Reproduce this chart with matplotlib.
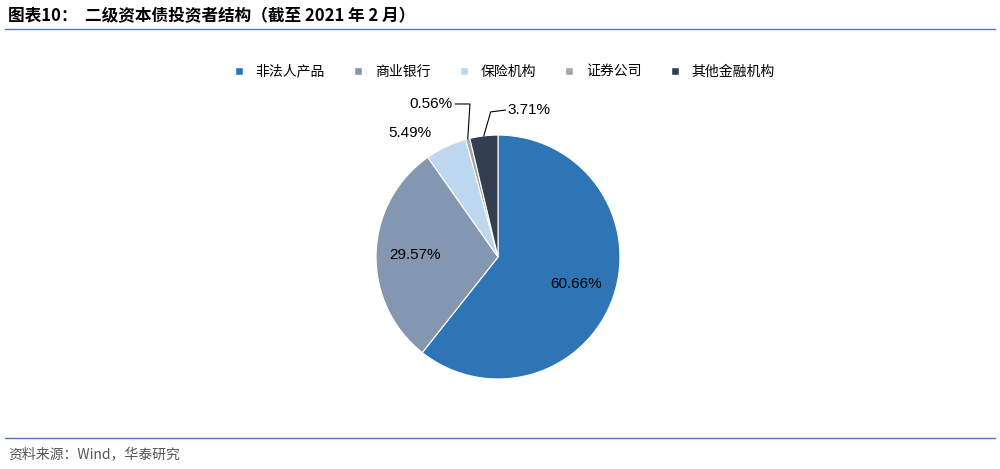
import matplotlib
matplotlib.use("Agg")
import matplotlib.pyplot as plt
import numpy as np
from matplotlib.lines import Line2D

plt.rcParams['font.family'] = ['Noto Sans CJK SC', 'DejaVu Sans']

categories = ["非法人产品", "商业银行", "保险机构", "证券公司", "其他金融机构"]
values = [60.66, 29.57, 5.49, 0.56, 3.71]
labels = ["60.66%", "29.57%", "5.49%", "0.56%", "3.71%"]
colors = ["#2E75B6", "#8497B0", "#BDD7EE", "#A5A5A5", "#333F50"]

fig = plt.figure(figsize=(10, 4.69), dpi=100)
fig.patch.set_facecolor("white")

ax = fig.add_axes([0.376, 0.192, 0.244, 0.520])
wedges, _ = ax.pie(values, colors=colors, startangle=90, counterclock=False,
                   wedgeprops=dict(linewidth=0.8, edgecolor="white"))
ax.set_aspect("equal")
ax.set_xlim(-1, 1); ax.set_ylim(-1, 1)

def mid(w):
    a = np.deg2rad((w.theta1 + w.theta2) / 2)
    return np.cos(a), np.sin(a)

LF = "Liberation Sans"
x, y = mid(wedges[0])
ax.text(0.68 * x, 0.68 * y, labels[0], ha="center", va="center", fontsize=11, family=LF)
x, y = mid(wedges[1])
ax.text(0.68 * x, 0.68 * y, labels[1], ha="center", va="center", fontsize=11, family=LF)
ax.text(-0.72, 1.02, labels[2], ha="center", va="center", fontsize=11, family=LF)
x, y = mid(wedges[3])
ax.plot([x, -0.23, -0.35], [y, 1.255, 1.255], color="black", lw=0.8, clip_on=False)
ax.text(-0.37, 1.255, labels[3], ha="right", va="center", fontsize=11, family=LF)
x, y = mid(wedges[4])
ax.plot([x, -0.06, 0.06], [y, 1.19, 1.205], color="black", lw=0.8, clip_on=False)
ax.text(0.08, 1.205, labels[4], ha="left", va="center", fontsize=11, family=LF)

handles = [Line2D([0], [0], marker="s", color="w", markerfacecolor=c, markersize=6, label=l)
           for c, l in zip(colors, categories)]
fig.legend(handles=handles, loc="center", bbox_to_anchor=(0.5, 0.847), ncol=5, frameon=False,
           fontsize=10, handletextpad=0.2, columnspacing=1.4)

fig.text(0.008, 0.965, "图表10：  二级资本债投资者结构（截至 2021 年 2 月）", fontsize=12, fontweight="bold",
         ha="left", va="center")
fig.add_artist(Line2D([0.005, 0.995], [0.938, 0.938], color="#4F7AB8", lw=1))
fig.add_artist(Line2D([0.005, 0.995], [0.067, 0.067], color="#4F7AB8", lw=1))
fig.text(0.008, 0.032, "资料来源：Wind，华泰研究", fontsize=10, color="#555555", ha="left", va="center")

fig.savefig("out.png", dpi=100)
